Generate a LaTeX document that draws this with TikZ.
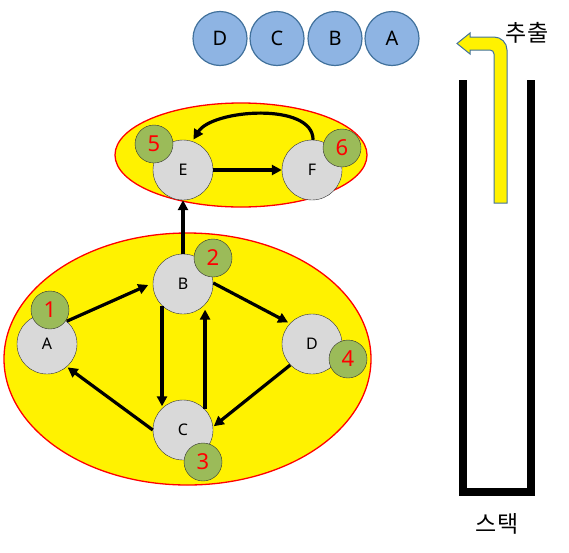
\documentclass[tikz,border=0pt]{standalone}
\usepackage{fontspec}
\setmainfont{Noto Sans}
\newfontfamily\kr{Noto Sans CJK KR}
\usepackage{xcolor}
\usetikzlibrary{arrows.meta}

\definecolor{vgray}{HTML}{D9D9D9}
\definecolor{vgreen}{HTML}{9BBB59}
\definecolor{vblue}{HTML}{8EB4E3}
\definecolor{vblueline}{HTML}{41719C}

\tikzset{
    vertex/.style={circle, draw=black!80, fill=vgray, minimum size=60pt, inner sep=0pt, font=\fontsize{16}{16}\selectfont},
    order/.style={circle, draw=black!80, fill=vgreen, minimum size=38pt, inner sep=0pt, text=red, font=\fontsize{22}{22}\selectfont},
    popped/.style={circle, draw=vblueline, line width=1.2pt, fill=vblue, minimum size=54pt, inner sep=0pt, font=\fontsize{20}{20}\selectfont},
    link/.style={line width=3.2pt, -{Triangle[length=10pt,width=10pt]}},
    group/.style={draw=red, line width=1.3pt, fill=yellow},
    hangul/.style={font=\kr\fontsize{23}{23}\selectfont},
}

\begin{document}
\begin{tikzpicture}[x=1pt,y=-1pt]
    \useasboundingbox (0,0) rectangle (569,552);

    % components
    \draw[group] (241,155) ellipse [x radius=126, y radius=52];
    \draw[group] (187.5,359) ellipse [x radius=183.5, y radius=126];

    \node[vertex] (A) at (47,344) {A};
    \node[vertex] (B) at (183,284) {B};
    \node[vertex] (C) at (183,430) {C};
    \node[vertex] (D) at (312,344) {D};
    \node[vertex] (E) at (183,170) {E};
    \node[vertex] (F) at (312,170) {F};

    \node[order] (n1) at (50,310) {1};
    \node[order] (n2) at (213,258) {2};
    \node[order] (n3) at (203,462) {3};
    \node[order] (n4) at (348,359) {4};
    \node[order] (n5) at (154,144) {5};
    \node[order] (n6) at (342,148) {6};

    \draw[link, shorten >=5pt] (A.49) -- (B.178);
    \draw[link, shorten >=2pt] (B.2) -- (D.137);
    \draw[link, shorten >=1pt] (D.224) -- (C.6);
    \draw[link, shorten >=1pt] (C.180) -- (A.311);
    \draw[link, shorten >=2pt] (B.226) -- (C.134);
    \draw[link, shorten >=5pt] (C.43) -- (B.317);
    \draw[link] (B.90) -- (E.270);
    \draw[link] (E.0) -- (F.180);
    \draw[link, shorten >=2pt] (F.88) .. controls +(0,-38) and +(20,-32) .. (E.72);

    % popped order
    \node[popped] (qD) at (220,38.5) {D};
    \node[popped] (qC) at (277,38.5) {C};
    \node[popped] (qB) at (335,38.5) {B};
    \node[popped] (qA) at (392,38.5) {A};

    % stack
    \draw[line width=8pt] (463,80) -- (463,491.5) -- (531,491.5) -- (531,80);
    \draw[draw=vblueline, fill=yellow, line width=1pt] (507,203) -- (507,50)
        arc[start angle=0, end angle=-90, radius=13] -- (470,37) -- (470,33)
        -- (457,43.5) -- (470,54) -- (470,50) -- (490,50)
        arc[start angle=-90, end angle=0, radius=4] -- (494,203) -- cycle;

    \node[hangul] (pop) at (527,33) {추출};
    \node[hangul] (stack) at (497,524) {스택};
\end{tikzpicture}
\end{document}
